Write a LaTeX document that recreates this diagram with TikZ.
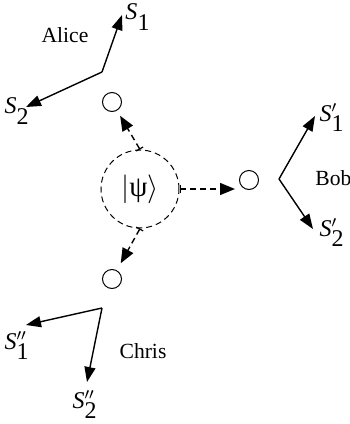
\documentclass[tikz,border=0pt]{standalone}
\usepackage{fontspec}
\setmainfont{Liberation Serif}
\usetikzlibrary{arrows.meta}
\tikzstyle{dot}=[circle, draw=black, minimum size=9.5pt, inner sep=0pt, line width=0.5pt]
\tikzstyle{state}=[circle, draw=black, dash pattern=on 3pt off 2pt, minimum size=39pt, inner sep=0pt, line width=0.5pt]
\tikzstyle{meas}=[-{Triangle[length=7.5pt,width=5.5pt]}, line width=0.7pt]
\tikzstyle{send}=[dash pattern=on 3pt off 2pt, {Bar[width=4pt,line width=0.6pt]}-{Triangle[length=7.5pt,width=6pt]}, line width=0.7pt]
\tikzstyle{annot}=[align=center, inner sep=0pt, font=\fontsize{10.8}{13}\selectfont]
\tikzstyle{slabel}=[inner sep=0pt, font=\fontsize{12}{14}\selectfont]
\newcommand{\slab}[2]{\textit{S}$^{#2}_{\textrm{#1}}$}

\begin{document}
\begin{tikzpicture}[x=0.5pt, y=-0.5pt]
	\useasboundingbox (0,0) rectangle (349,424);

	% source
	\node[state](psi) at (140,189){\fontsize{14.5}{16}\selectfont$|$ψ$\rangle$};
	\node[dot](adot) at (112,102){};
	\node[dot](bdot) at (249,180){};
	\node[dot](cdot) at (112,279){};

	\draw[send, shorten >=3pt] (psi.north) -- (adot);
	\draw[send] (psi.east) -- ([xshift=-2pt]psi.east -| bdot.west);
	\draw[send, shorten >=4pt] (psi.south) -- (cdot);

	% Alice
	\coordinate (alice) at (102,72);
	\coordinate (alice1) at (122,15);
	\coordinate (alice2) at (26,107);
	\node[annot](alicename) at (65,35){Alice};
	\node[slabel](sa1) at (138,17){\slab{1}{}};
	\node[slabel](sa2) at (17,111){\slab{2}{}};
	\draw[meas] (alice) -- (alice1);
	\draw[meas] (alice) -- (alice2);

	% Bob
	\coordinate (bob) at (279,179);
	\coordinate (bob1) at (315,116);
	\coordinate (bob2) at (313,229);
	\node[annot, anchor=west](bobname) at (315,178){Bob};
	\node[slabel](sb1) at (332,118){\slab{1}{\prime}};
	\node[slabel](sb2) at (332,233){\slab{2}{\prime}};
	\draw[meas] (bob) -- (bob1);
	\draw[meas] (bob) -- (bob2);

	% Chris
	\coordinate (chris) at (102,308);
	\coordinate (chris1) at (26,325);
	\coordinate (chris2) at (87,382);
	\node[annot](chrisname) at (143,351){Chris};
	\node[slabel](sc1) at (17,346){\slab{1}{\prime\prime}};
	\node[slabel](sc2) at (85,405){\slab{2}{\prime\prime}};
	\draw[meas] (chris) -- (chris1);
	\draw[meas] (chris) -- (chris2);

\end{tikzpicture}
\end{document}
